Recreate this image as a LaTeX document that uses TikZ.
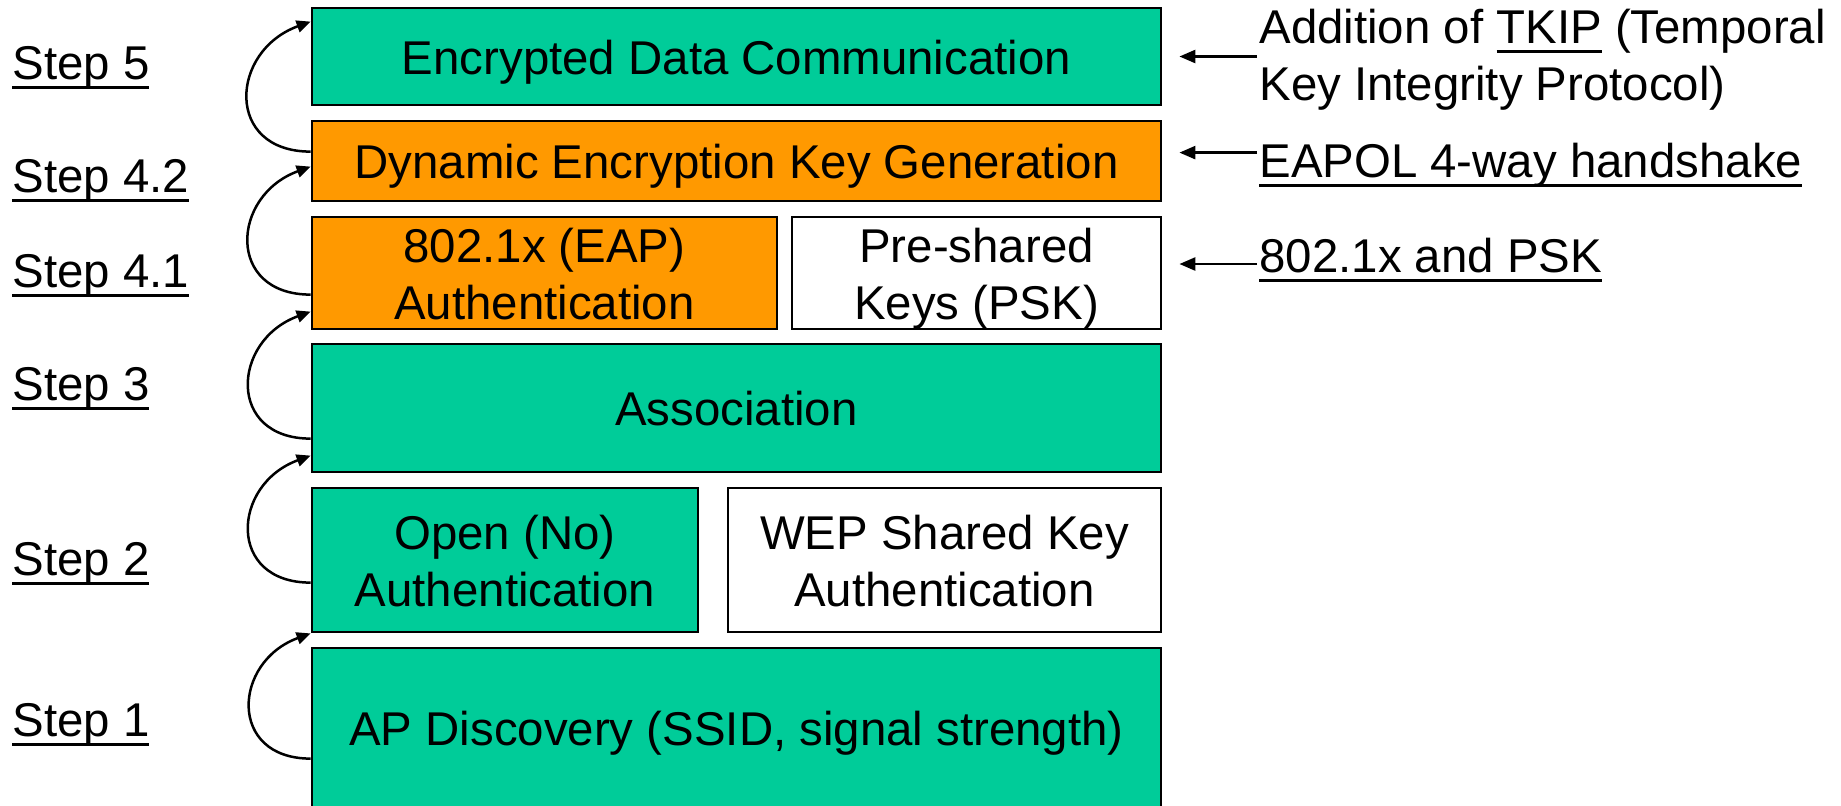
\documentclass[tikz,border=0pt]{standalone}
\usepackage{fontspec}
\setmainfont{Liberation Sans}
\usetikzlibrary{arrows.meta}
\definecolor{stepgreen}{RGB}{0,204,153}
\definecolor{steporange}{RGB}{255,153,0}
\newcommand{\undl}[1]{\setbox0\hbox{#1}\rlap{\rule[-5pt]{\wd0}{1.7pt}}\box0\relax}
\begin{document}
\begin{tikzpicture}[
		x=0.5pt, y=-0.5pt,
		font=\fontsize{23.7}{28.5}\selectfont,
		layer/.style={draw, line width=1.4pt, inner sep=0pt, align=center, text height=18pt, text depth=0.5pt},
		twoline/.style={text height=47pt, text depth=0.5pt},
		greenbox/.style={layer, fill=stepgreen},
		orangebox/.style={layer, fill=steporange},
		whitebox/.style={layer, fill=white},
		steplabel/.style={anchor=base west, inner sep=0pt},
		note/.style={anchor=base west, inner sep=1pt, align=left},
		stepcurve/.style={line width=1.25pt, -{Triangle[length=7pt,width=6pt]}, out=180, in=200, looseness=1.7},
		notearrow/.style={line width=1.3pt, -{Triangle[length=8pt,width=6.5pt]}}
	]
	\useasboundingbox (0,0) rectangle (1841,805);
	\clip (0,0) rectangle (1841,805);
	\node[greenbox, minimum width=424.5pt, minimum height=48.5pt] (box5) at (736.5,56.5) {Encrypted Data Communication};
	\node[orangebox, minimum width=424.5pt, minimum height=40pt] (box42) at (736.5,161) {Dynamic Encryption Key Generation};
	\node[orangebox, twoline, minimum width=232.5pt, minimum height=56pt] (box41a) at (544.5,273) {802.1x (EAP)\\Authentication};
	\node[whitebox, twoline, minimum width=184.5pt, minimum height=56pt] (box41b) at (976.5,273) {Pre-shared\\Keys (PSK)};
	\node[greenbox, minimum width=424.5pt, minimum height=64pt] (box3) at (736.5,408) {Association};
	\node[greenbox, twoline, minimum width=193pt, minimum height=72pt] (box2a) at (505,560) {Open (No)\\Authentication};
	\node[whitebox, twoline, minimum width=216.5pt, minimum height=72pt] (box2b) at (944.5,560) {WEP Shared Key\\Authentication};
	\node[greenbox, minimum width=424.5pt, minimum height=80pt] (box1) at (736.5,728) {AP Discovery (SSID, signal strength)};
	\node[steplabel] (step5) at (12,79) {\undl{Step 5}};
	\node[steplabel] (step42) at (12,192) {\undl{Step 4.2}};
	\node[steplabel] (step41) at (12,287) {\undl{Step 4.1}};
	\node[steplabel] (step3) at (12,400) {\undl{Step 3}};
	\node[steplabel] (step2) at (12,575) {\undl{Step 2}};
	\node[steplabel] (step1) at (12,736) {\undl{Step 1}};
	\draw[stepcurve] ([yshift=-56pt]box1.north west) to (box2a.south west);
	\draw[stepcurve] ([yshift=-48pt]box2a.north west) to ([yshift=-56.5pt]box3.north west);
	\draw[stepcurve] ([yshift=-48pt]box3.north west) to ([yshift=-48pt]box41a.north west);
	\draw[stepcurve] ([yshift=-39.5pt]box41a.north west) to ([yshift=-23.5pt]box42.north west);
	\draw[stepcurve] ([yshift=-16pt]box42.north west) to ([yshift=-7.5pt]box5.north west);
	\node[note] (note5) at (1257,100) {Addition of \undl{TKIP} (Temporal\\Key Integrity Protocol)};
	\node[note] (note42) at (1257,177) {\undl{EAPOL 4-way handshake}};
	\node[note] (note41) at (1257,272) {\undl{802.1x and PSK}};
	\coordinate (tip5) at ([xshift=8.5pt]box5.east);
	\coordinate (tip42) at ([xshift=8.5pt,yshift=4.2pt]box42.east);
	\coordinate (tip41) at ([xshift=8.5pt,yshift=4.5pt]box41b.east);
	\draw[notearrow] (note5.west |- tip5) -- (tip5);
	\draw[notearrow] (note42.west |- tip42) -- (tip42);
	\draw[notearrow] (note41.west |- tip41) -- (tip41);
\end{tikzpicture}
\end{document}
